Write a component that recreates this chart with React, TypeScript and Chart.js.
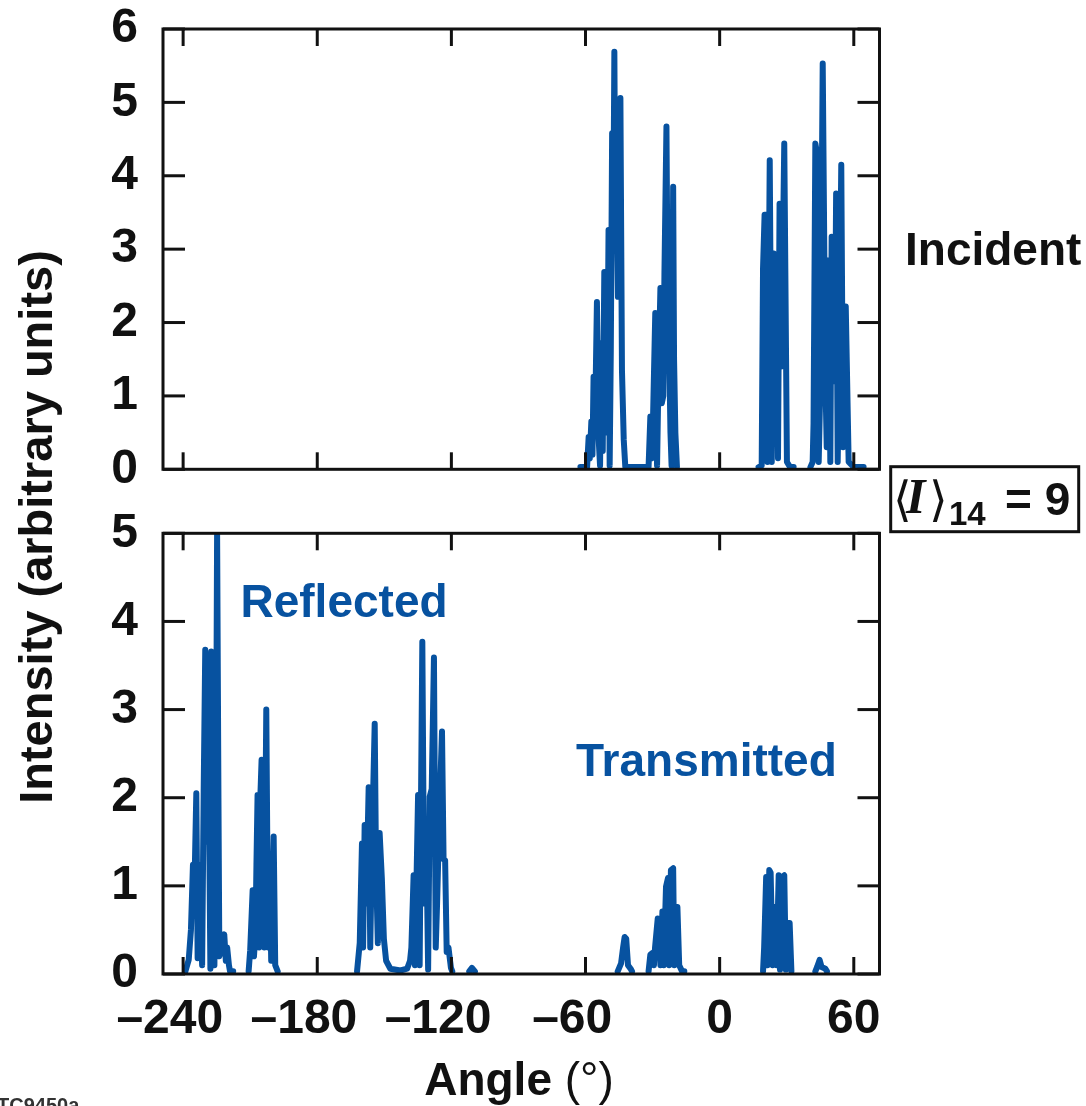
import React, { useEffect, useRef } from 'react';
import { Chart, registerables } from 'chart.js';

Chart.register(...registerables);

// ---------- data ----------
const X_MIN = -249;
const X_MAX = 71.5;
const xTickValues = [-240, -180, -120, -60, 0, 60];
const topYTickValues = [0, 1, 2, 3, 4, 5, 6];
const bottomYTickValues = [0, 1, 2, 3, 4, 5];

// Incident (top panel); null value = gap in the trace
const incidentAngles = [
  -62.3, -59.3, -58.6, -58.1, -57.4, -56.9, -56.4, -55.8, -54.9, -54.1, -53.5, -52.9, -52.3, -51.6, -51.0, -50.4,
  -49.7, -49.2, -48.7, -48.1, -47.6, -47.1, -46.7, -46.0, -45.5, -44.9, -44.4, -43.7, -42.9, -42.2, -31.8, -31.0,
  -30.5, -29.8, -28.8, -28.0, -27.4, -26.5, -25.9, -25.2, -24.7, -23.8, -23.2, -22.8, -22.0, -21.5, -20.8, -20.4,
  -19.8, -19.1, 0,
  17.4, 18.8, 19.4, 20.1, 20.9, 21.4, 22.4, 23.3, 24.2, 24.8, 25.4, 26.1, 26.8, 27.6, 28.9, 30.1, 31.5, 33.1, 37,
  40.6, 41.6, 42.0, 42.8, 43.6, 44.3, 45.0, 46.1, 47.3, 47.9, 48.8, 49.5, 50.1, 51.0, 51.5, 52.1, 52.8, 53.5,
  54.4, 55.2, 55.8, 56.4, 57.7, 60.0, 64.4,
];
const incidentValues = [
  0.03, 0.03, 0.44, 0.15, 0.65, 0.2, 1.26, 0.5, 2.28, 0.4, 0.05, 1.72, 0.25, 2.69, 1.6, 0.5,
  3.26, 0.05, 1.6, 4.58, 3.2, 5.69, 3.4, 3.6, 2.35, 4.0, 5.06, 1.35, 0.4, 0.03, 0.03, 0.72,
  0.15, 0.7, 2.13, 0.05, 1.2, 2.47, 0.9, 1.0, 2.67, 4.67, 2.0, 2.03, 0.5, 0.05, 3.85, 1.5,
  0.49, 0.03, null,
  0.03, 0.05, 2.74, 3.47, 3.47, 0.1, 4.21, 0.1, 2.94, 0.7, 2.92, 0.15, 3.62, 1.4, 4.44, 0.1, 0.03, 0.03, null,
  0.03, 0.1, 0.63, 4.44, 4.3, 0.1, 1.1, 5.53, 1.22, 0.3, 2.85, 0.1, 3.17, 1.2, 1.3, 3.76, 0.1, 1.5,
  4.15, 0.3, 1.0, 2.22, 0.1, 0.03, 0.03,
];

// Reflected (bottom panel)
const reflectedAngles = [
  -239.0, -237.5, -236.5, -235.6, -235.0, -234.1, -233.5, -232.6, -231.5, -230.8, -230.1, -229.3, -228.6, -227.8,
  -227.4, -226.8, -226.0, -225.3, -224.8, -224.2, -223.8, -222.8, -221.6, -220.9, -220.3, -219.5, -219.0, -217.6,
  -214,
  -210.7, -210.0, -208.9, -208.3, -207.6, -207.2, -206.7, -206.0, -205.6, -204.9, -204.3, -203.7, -202.8, -202.0,
  -201.3, -200.6, -199.5, -198.8, -197.7,
  -180,
  -162.2, -161.0, -160.0, -159.5, -158.8, -158.1, -157.0, -156.3, -155.4, -154.3, -153.7, -152.9, -152.1, -151.1,
  -150.2, -149.2, -147.3, -142.8, -139.8, -138.5, -137.9, -136.9, -136.3, -134.9, -134.2, -133.0, -132.2, -131.2,
  -130.4, -129.7, -128.8, -127.8, -127.0, -126.4, -125.4, -124.2, -123.5, -122.8, -122.1, -121.3, -120.2, -119.6,
  -115,
  -112.0, -110.8, -109.5,
];
const reflectedValues = [
  0.03, 0.16, 0.5, 1.24, 0.9, 2.05, 0.18, 1.24, 0.1, 2.07, 3.68, 1.5, 2.4, 0.06,
  3.66, 3.6, 0.1, 2.0, 5.0, 2.0, 0.2, 0.3, 0.45, 0.15, 0.3, 0.1, 0.03, 0.03,
  null,
  0.03, 0.27, 0.95, 0.2, 0.5, 1.24, 2.03, 0.3, 1.9, 2.43, 1.4, 0.3, 3.0, 0.3,
  1.26, 0.15, 1.56, 0.1, 0.03,
  null,
  0.03, 0.35, 1.48, 0.3, 1.69, 0.8, 2.12, 0.3, 1.6, 2.84, 1.2, 0.35, 1.6, 1.08,
  0.4, 0.15, 0.06, 0.04, 0.06, 0.15, 0.3, 1.12, 0.1, 2.03, 0.1, 3.77, 0.8, 1.52,
  0.05, 2.01, 2.1, 3.59, 0.3, 0.8, 1.8, 2.75, 1.3, 1.29, 0.25, 0.3, 0.07, 0.03,
  null,
  0.03, 0.07, 0.03,
];

// Transmitted (bottom panel)
const transmittedAngles = [
  -45.6, -44.1, -43.2, -42.5, -41.8, -41.0, -39.6, -39.2,
  -35,
  -31.8, -31.0, -30.0, -29.4, -28.9, -27.7, -27.1, -26.5, -25.6, -25.0, -24.0, -23.1, -22.6, -21.8, -20.8, -20.3,
  -19.5, -18.9, -18.1, -16.8, -15.8,
  0,
  19.4, 19.9, 20.8, 21.4, 22.2, 22.8, 23.7, 24.5, 25.5, 26.4, 27.0, 27.9, 28.9, 29.6, 30.4, 31.3, 32.1,
  37,
  42.8, 43.6, 44.7, 45.6, 47.3, 48.0,
];
const transmittedValues = [
  0.03, 0.12, 0.3, 0.42, 0.4, 0.1, 0.05, 0.03,
  null,
  0.03, 0.22, 0.24, 0.1, 0.3, 0.63, 0.6, 0.1, 0.71, 0.1, 0.99, 1.09, 0.1, 1.18, 1.2, 0.1,
  0.76, 0.76, 0.1, 0.03, 0.03,
  null,
  0.03, 0.3, 1.1, 0.1, 1.18, 1.15, 0.1, 0.76, 0.1, 1.12, 0.05, 1.1, 1.12, 0.05, 0.58, 0.58, 0.03,
  null,
  0.03, 0.08, 0.16, 0.08, 0.06, 0.03,
];

// ---------- styling ----------
const W = 1086;
const H = 1106;
const BLUE = '#0752A0';
const INK = '#111111';
const PLOT_LEFT = 163;
const PLOT_RIGHT = 879.5;
const TOP_PANEL = { top: 29, bottom: 469.3 };
const BOTTOM_PANEL = { top: 533.3, bottom: 974 };
const SANS = '"Liberation Sans", Arial, Helvetica, sans-serif';
const SERIF = '"Liberation Serif", "DejaVu Serif", serif';

const toPoints = (xs: number[], ys: (number | null)[]) => xs.map((x, i) => ({ x, y: ys[i] }));

const framePlugin = {
  id: 'frame',
  afterDatasetsDraw(chart: any, _args: any, opts: any) {
    const { ctx, chartArea, scales } = chart;
    const { left, right, top, bottom } = chartArea;
    ctx.save();
    ctx.strokeStyle = INK;
    ctx.lineWidth = 3;
    ctx.lineCap = 'butt';
    ctx.strokeRect(left, top, right - left, bottom - top);
    const seg = (x1: number, y1: number, x2: number, y2: number) => {
      ctx.beginPath();
      ctx.moveTo(x1, y1);
      ctx.lineTo(x2, y2);
      ctx.stroke();
    };
    for (const v of xTickValues) {
      const px = scales.x.getPixelForValue(v);
      seg(px, bottom, px, bottom - 17);
      seg(px, top, px, top + 17);
    }
    for (const v of opts.yTicks as number[]) {
      const py = scales.y.getPixelForValue(v);
      seg(left, py, left + 22, py);
      seg(right, py, right - 22, py);
    }
    // x tick labels (bottom panel only): digits centred on the tick, minus sign hanging left
    if (opts.xLabels) {
      ctx.fillStyle = INK;
      ctx.font = `bold 48px ${SANS}`;
      ctx.textBaseline = 'alphabetic';
      for (const v of xTickValues) {
        const px = scales.x.getPixelForValue(v);
        const digits = String(Math.abs(v));
        const wd = ctx.measureText(digits).width;
        ctx.textAlign = 'center';
        ctx.fillText(digits, px, 1033);
        if (v < 0) {
          ctx.textAlign = 'right';
          ctx.fillText('\u2013', px - wd / 2, 1033);
        }
      }
    }
    ctx.restore();
  },
};

const textPlugin = {
  id: 'texts',
  afterDraw(chart: any) {
    const ctx = chart.ctx as CanvasRenderingContext2D;
    ctx.save();
    ctx.textBaseline = 'alphabetic';
    ctx.textAlign = 'left';

    // panel labels
    ctx.fillStyle = INK;
    ctx.font = `bold 46px ${SANS}`;
    ctx.fillText('Incident', 905, 265);
    ctx.fillStyle = BLUE;
    ctx.fillText('Reflected', 240.5, 616.5);
    ctx.fillText('Transmitted', 576, 776);

    // average-intensity box
    ctx.strokeStyle = INK;
    ctx.lineWidth = 3;
    ctx.strokeRect(890.7, 466.7, 188, 65);
    ctx.fillStyle = INK;
    ctx.font = `48px ${SERIF}`;
    ctx.fillText('\u27E8', 893, 516);
    ctx.font = `italic bold 50px ${SERIF}`;
    ctx.fillText('I', 906, 513);
    ctx.font = `48px ${SERIF}`;
    ctx.fillText('\u27E9', 929, 516);
    ctx.font = `bold 33px ${SANS}`;
    ctx.fillText('14', 949, 525);
    ctx.font = `bold 46px ${SANS}`;
    ctx.fillText('= 9', 1005, 515);

    // y-axis title
    ctx.save();
    ctx.translate(52, 527);
    ctx.rotate(-Math.PI / 2);
    ctx.textAlign = 'center';
    ctx.font = `bold 47px ${SANS}`;
    ctx.fillText('Intensity (arbitrary units)', 0, 0);
    ctx.restore();

    // x-axis title: bold "Angle" + regular "(°)"
    const part1 = 'Angle ';
    const part2 = '(°)';
    ctx.font = `bold 46px ${SANS}`;
    const w1 = ctx.measureText(part1).width;
    ctx.font = `46px ${SANS}`;
    const w2 = ctx.measureText(part2).width;
    const x0 = 519 - (w1 + w2) / 2;
    ctx.font = `bold 46px ${SANS}`;
    ctx.fillText(part1, x0, 1095);
    ctx.font = `46px ${SANS}`;
    ctx.fillText(part2, x0 + w1, 1095);

    // figure id
    ctx.fillStyle = '#333333';
    ctx.font = `bold 20px ${SANS}`;
    ctx.fillText('TC9450a', -3, 1112);
    ctx.restore();
  },
};

const lineStyle = {
  borderColor: BLUE,
  backgroundColor: BLUE,
  borderWidth: 6,
  pointRadius: 0,
  tension: 0,
  borderJoinStyle: 'round' as const,
  borderCapStyle: 'round' as const,
  spanGaps: false,
};

function makeConfig(panel: 'top' | 'bottom'): any {
  const isTop = panel === 'top';
  const area = isTop ? TOP_PANEL : BOTTOM_PANEL;
  const yTicks = isTop ? topYTickValues : bottomYTickValues;
  const datasets = isTop
    ? [{ ...lineStyle, label: 'Incident', data: toPoints(incidentAngles, incidentValues) }]
    : [
        { ...lineStyle, label: 'Reflected', data: toPoints(reflectedAngles, reflectedValues) },
        { ...lineStyle, label: 'Transmitted', data: toPoints(transmittedAngles, transmittedValues) },
      ];
  return {
    type: 'line',
    data: { datasets },
    options: {
      responsive: false,
      animation: false,
      events: [],
      layout: {
        padding: {
          left: 0,
          right: W - PLOT_RIGHT,
          top: area.top,
          bottom: H - area.bottom,
        },
      },
      plugins: {
        legend: { display: false },
        tooltip: { enabled: false },
        frame: { yTicks, xLabels: !isTop },
      },
      scales: {
        x: {
          type: 'linear',
          display: false,
          min: X_MIN,
          max: X_MAX,
        },
        y: {
          type: 'linear',
          min: 0,
          max: isTop ? 6 : 5,
          grid: { display: false, drawTicks: false },
          border: { display: false },
          afterBuildTicks: (scale: any) => {
            scale.ticks = yTicks.map((v) => ({ value: v }));
          },
          afterFit: (scale: any) => {
            scale.width = PLOT_LEFT;
            scale.paddingTop = 0;
            scale.paddingBottom = 0;
          },
          ticks: {
            padding: 25,
            autoSkip: false,
            color: INK,
            font: { family: SANS, size: 48, weight: 'bold' },
          },
        },
      },
    },
    plugins: isTop ? [framePlugin] : [framePlugin, textPlugin],
  };
}

function App() {
  const topRef = useRef<HTMLCanvasElement | null>(null);
  const bottomRef = useRef<HTMLCanvasElement | null>(null);

  useEffect(() => {
    if (!topRef.current || !bottomRef.current) return;
    const top = new Chart(topRef.current, makeConfig('top'));
    const bottom = new Chart(bottomRef.current, makeConfig('bottom'));
    return () => {
      top.destroy();
      bottom.destroy();
    };
  }, []);

  const canvasStyle: React.CSSProperties = { position: 'absolute', left: 0, top: 0, width: W, height: H };
  return (
    <div style={{ position: 'absolute', left: 0, top: 0, width: W, height: H, background: '#ffffff', overflow: 'hidden' }}>
      <canvas ref={topRef} width={W} height={H} style={canvasStyle} />
      <canvas ref={bottomRef} width={W} height={H} style={canvasStyle} />
    </div>
  );
}

export default App;
